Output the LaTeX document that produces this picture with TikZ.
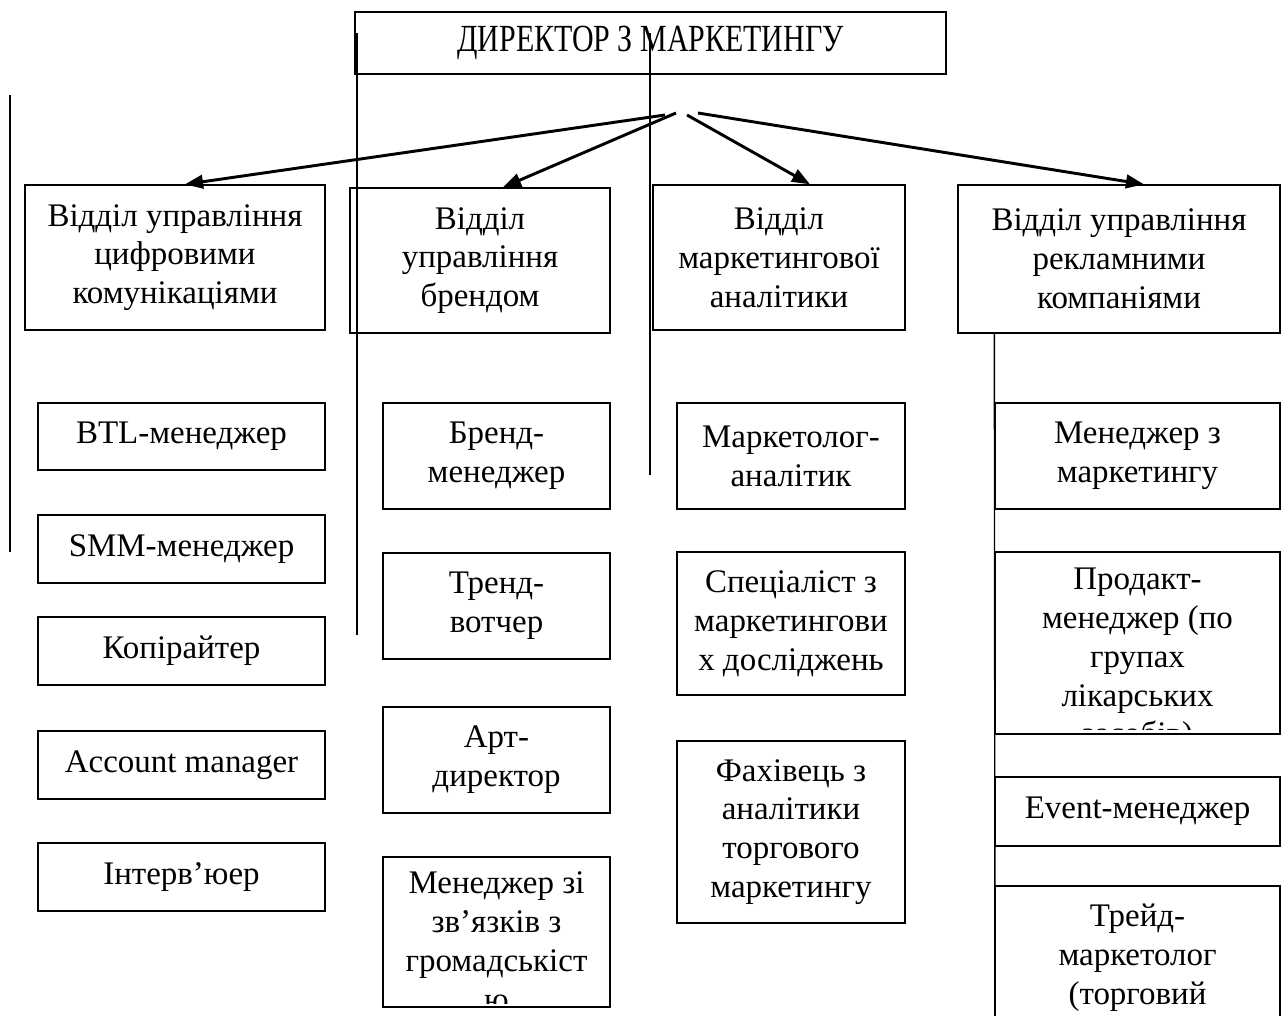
\documentclass[tikz,border=0pt]{standalone}
\usepackage{fontspec}
\setmainfont{Liberation Serif}
\usepackage{tikz}
\usetikzlibrary{arrows.meta,positioning,calc}
\newlength\pxu
\setlength\pxu{0.443pt}
\tikzset{
  >={Triangle[length=8pt, width=6pt]},
  unit/.style={draw, line width=0.6pt, inner sep=0pt, align=center, font=\fontsize{14.6}{17.2}\selectfont},
  conn/.style={->, line width=1.3pt},
  stray/.style={line width=0.6pt},
}

\begin{document}
\begin{tikzpicture}[x=0.443pt, y=-0.443pt]
  \clip (0,0) rectangle (1284,1015);
  % director
  \node[unit, minimum width=591\pxu, minimum height=62\pxu, font=\fontsize{17}{20}\selectfont\addfontfeature{FakeStretch=0.78}] (dir) at (650.5,43) {ДИРЕКТОР З МАРКЕТИНГУ};
  % departments
  \node[unit, minimum width=300\pxu, minimum height=145\pxu] (dig) at (175,257.5) {Відділ управління\\цифровими\\комунікаціями};
  \node[unit, minimum width=260\pxu, minimum height=145\pxu] (brd) at (480,260.5) {Відділ\\управління\\брендом};
  \node[unit, minimum width=252\pxu, minimum height=145\pxu] (anl) at (779,257.5) {Відділ\\маркетингової\\аналітики};
  \node[unit, minimum width=322\pxu, minimum height=148\pxu] (adv) at (1119,259) {Відділ управління\\рекламними\\компаніями};
  % arrows from director
  \coordinate (s1) at (665,115);
  \coordinate (s2) at (676,113);
  \coordinate (s3) at (687,115);
  \coordinate (s4) at (698,113);
  \draw[conn] (s1) -- ([xshift=10\pxu]dig.north);
  \draw[conn] (s2) -- ([xshift=23\pxu]brd.north);
  \draw[conn] (s3) -- ([xshift=31\pxu]anl.north);
  \draw[conn] (s4) -- ([xshift=25\pxu]adv.north);
  % column 1
  \node[unit, minimum width=287\pxu, minimum height=67\pxu] (btl) at (181.5,436.5) {BTL-менеджер};
  \node[unit, minimum width=287\pxu, minimum height=68\pxu] (smm) at (181.5,549) {SMM-менеджер};
  \node[unit, minimum width=287\pxu, minimum height=68\pxu] (copy) at (181.5,651) {Копірайтер};
  \node[unit, minimum width=287\pxu, minimum height=68\pxu] (acc) at (181.5,765) {Account manager};
  \node[unit, minimum width=287\pxu, minimum height=68\pxu] (intv) at (181.5,877) {Інтерв’юер};
  % column 2
  \node[unit, minimum width=227\pxu, minimum height=106\pxu] (brand) at (496.5,456) {Бренд-\\менеджер};
  \node[unit, minimum width=227\pxu, minimum height=106\pxu] (trend) at (496.5,606) {Тренд-\\вотчер};
  \node[unit, minimum width=227\pxu, minimum height=106\pxu] (art) at (496.5,760) {Арт-\\директор};
  \node[unit, minimum width=227\pxu, minimum height=150\pxu] (pr) at (496.5,932) {};
  \begin{scope}
    \clip ([yshift=4\pxu]pr.south west) rectangle (pr.north east);
    \node[unit, draw=none, anchor=north] (prtext) at ([yshift=-15\pxu]pr.north) {Менеджер зі\\зв’язків з\\громадськіст\\ю};
  \end{scope}
  % column 3
  \node[unit, minimum width=228\pxu, minimum height=106\pxu] (analyst) at (791,456) {Маркетолог-\\аналітик};
  \node[unit, minimum width=228\pxu, minimum height=143\pxu] (research) at (791,623.5) {Спеціаліст з\\маркетингови\\х досліджень};
  \node[unit, minimum width=228\pxu, minimum height=182\pxu] (trade) at (791,832) {Фахівець з\\аналітики\\торгового\\маркетингу};
  % column 4
  \node[unit, minimum width=285\pxu, minimum height=106\pxu] (mktmgr) at (1137.5,456) {Менеджер з\\маркетингу};
  \node[unit, minimum width=285\pxu, minimum height=182\pxu] (product) at (1137.5,643) {};
  \begin{scope}
    \clip ([yshift=5\pxu]product.south west) rectangle (product.north east);
    \node[unit, draw=none, anchor=north] (producttext) at ([yshift=-16\pxu]product.north) {Продакт-\\менеджер (по\\групах\\лікарських\\засобів)};
  \end{scope}
  \node[unit, minimum width=285\pxu, minimum height=69\pxu] (event) at (1137.5,811.5) {Event-менеджер};
  \node[unit, minimum width=285\pxu, minimum height=177\pxu] (trademkt) at (1137.5,974.5) {};
  \node[unit, draw=none, anchor=north] (trademkttext) at ([yshift=-18\pxu]trademkt.north) {Трейд-\\маркетолог\\(торговий};
  % loose vertical lines
  \coordinate (v1a) at (10,95);   \coordinate (v1b) at (10,552);
  \coordinate (v2a) at (357,33);  \coordinate (v2b) at (357,635);
  \coordinate (v3a) at (650,33);  \coordinate (v3b) at (650,475);
  \coordinate (v4b) at (995,1015);
  \draw[stray] (v1a) -- (v1b);
  \draw[stray] (v2a) -- (v2b);
  \draw[stray] (v3a) -- (v3b);
  \draw[stray] (adv.south -| mktmgr.west) -- (v4b);
\end{tikzpicture}
\end{document}
